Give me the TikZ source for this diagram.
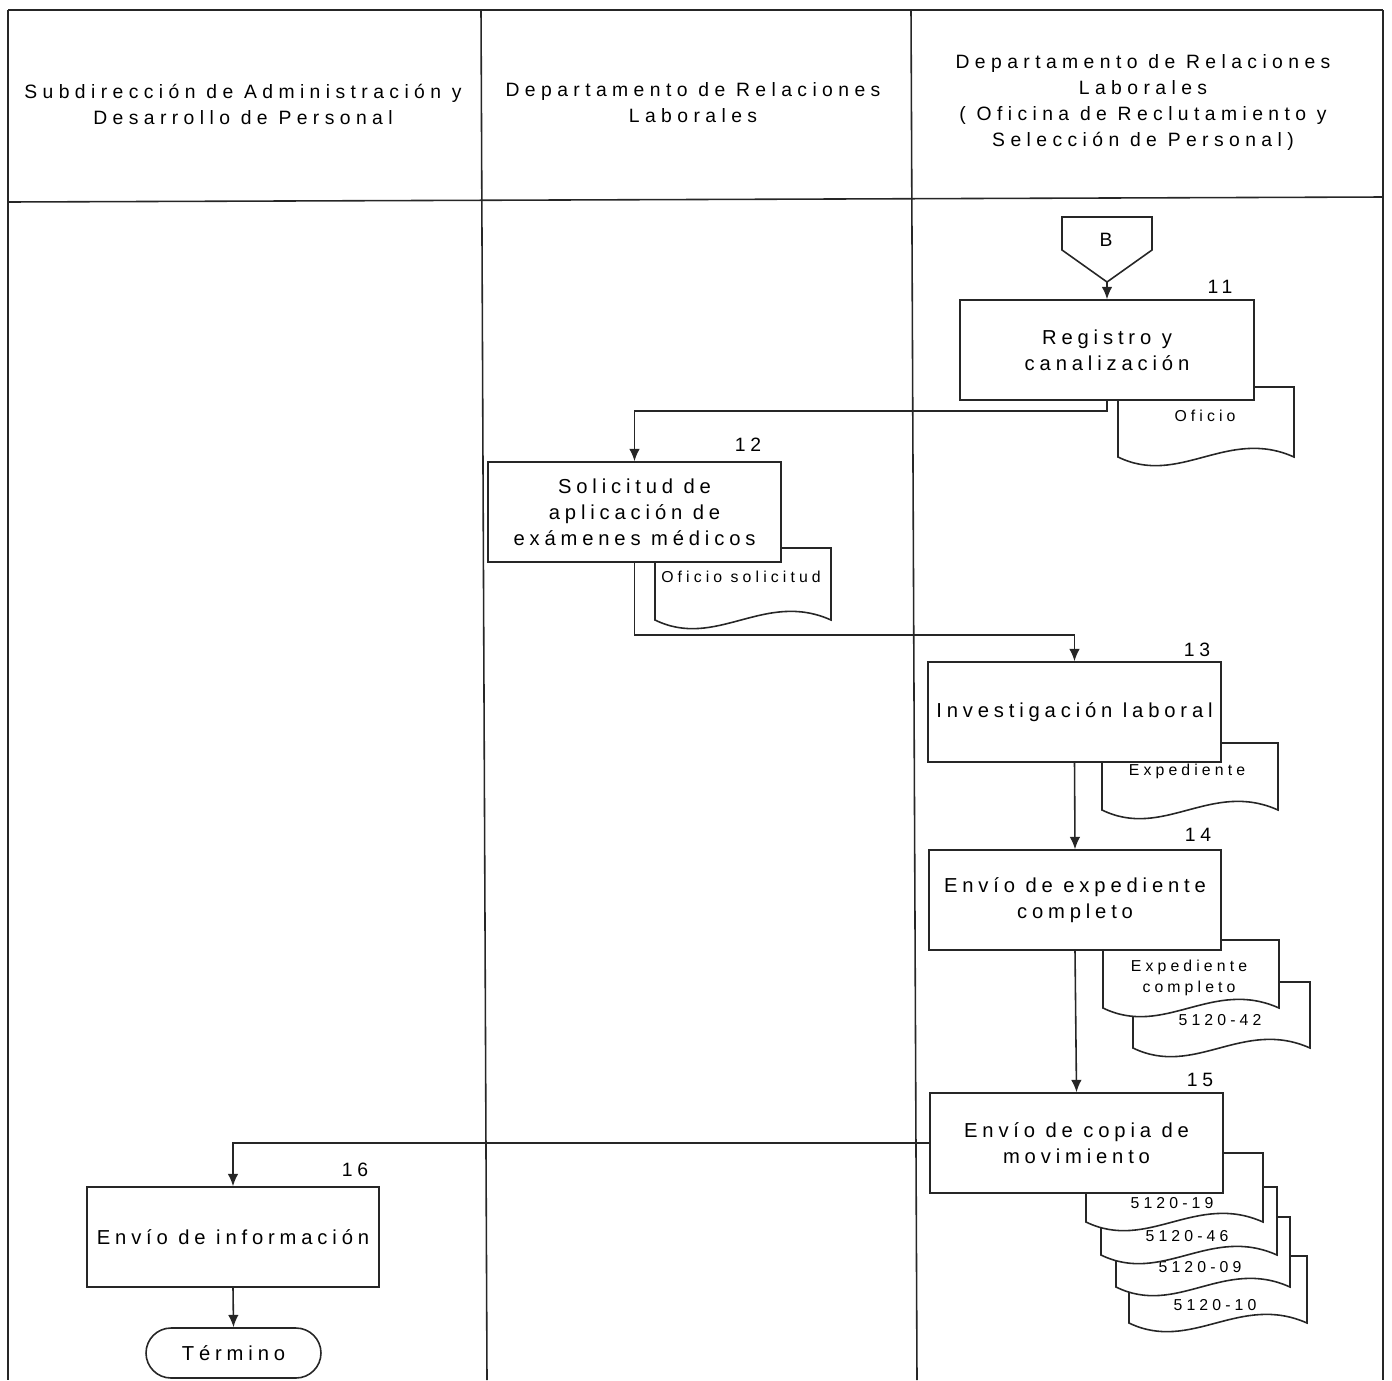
\documentclass[tikz,border=0pt]{standalone}
\usepackage{fontspec}
\setmainfont{Liberation Sans}
\newfontfamily\hfont[LetterSpace=28]{Liberation Sans}
\newfontfamily\bfont[LetterSpace=24]{Liberation Sans}
\newfontfamily\dfont[LetterSpace=26]{Liberation Sans}
\usetikzlibrary{calc,arrows.meta}
\tikzset{
  ln/.style={line width=0.9pt, draw=black!85},
  arr/.style={ln, -{Latex[length=7pt,width=6pt]}},
  hdr/.style={align=center, font=\hfont\fontsize{11}{14.8}\selectfont, inner sep=0pt},
  box/.style={ln, fill=white, rectangle, minimum height=2cm, align=center,
              font=\bfont\fontsize{11.5}{14.8}\selectfont, inner sep=0pt},
  num/.style={font=\bfont\fontsize{11}{13}\selectfont, inner sep=0pt},
  dtxt/.style={font=\dfont\fontsize{9}{12}\selectfont, align=center, inner sep=0pt},
  term/.style={ln, fill=white, rounded corners=0.5cm, minimum width=3.5cm, minimum height=1cm,
               font=\bfont\fontsize{11.5}{13}\selectfont, inner sep=0pt}
}
% document shape: x1, top, x2, bottom
\newcommand\docshape[4]{%
  \pgfmathsetmacro\dw{#3-#1}%
  \draw[ln, fill=white] (#1,#2) -- (#3,#2) -- (#3,#4)
     .. controls ({#1+0.62*\dw},{#4-30}) and ({#1+0.35*\dw},{#4+30}) .. (#1,#4) -- cycle;}
\begin{document}
\begin{tikzpicture}[x=0.02cm, y=-0.02cm]
\useasboundingbox (0,0) rectangle (1392,1380);
% frame
\draw[ln] (8,10) -- (1383,10);
\draw[ln] (8,10) -- (8,1380);
\draw[ln] (1383,10) -- (1383,1380);
\draw[ln] (481,10) -- (487,1380);
\draw[ln] (911,10) -- (917,1380);
\draw[ln] (8,202) -- (1383,197);
% headers
\node[hdr] (h1) at (243,104) {Subdirección de Administración y\\Desarrollo de Personal};
\node[hdr] (h2) at (693,103) {Departamento de Relaciones\\Laborales};
\node[hdr] (h3) at (1143,102) {Departamento de Relaciones\\Laborales\\( Oficina de Reclutamiento y\\Selección de Personal)};
% connector B
\draw[ln, fill=white] (1062,217) -- (1152,217) -- (1152,250) -- (1107,282) -- (1062,250) -- cycle;
\node[num] (B) at (1106,240) {B};
\coordinate (Btip) at (1107,282);
% documents
\docshape{1118}{387}{1294}{457}
\node[dtxt] (d11) at (1205,416) {Oficio};
\docshape{655}{548}{831}{620}
\node[dtxt] (d12) at (741,577) {Oficio solicitud};
\docshape{1102}{743}{1278}{810}
\node[dtxt] (d13) at (1187,771) {Expediente};
\docshape{1133}{982}{1310}{1048}
\node[dtxt] (d14b) at (1220,1020) {5120-42};
\docshape{1103}{940}{1279}{1008}
\node[dtxt] (d14a) at (1189,978) {Expediente\\completo};
\docshape{1129}{1256}{1307}{1323}
\node[dtxt] (d15d) at (1215,1305) {5120-10};
\docshape{1116}{1217}{1290}{1287}
\node[dtxt] (d15c) at (1200,1267) {5120-09};
\docshape{1101}{1187}{1277}{1255}
\node[dtxt] (d15b) at (1187,1236) {5120-46};
\docshape{1086}{1153}{1263}{1222}
\node[dtxt] (d15a) at (1172,1203) {5120-19};
% boxes
\node[box, minimum width=5.88cm] (b11) at (1107,350) {Registro y\\canalización};
\node[box, minimum width=5.86cm] (b12) at (634.5,512) {Solicitud de\\aplicación de\\exámenes médicos};
\node[box, minimum width=5.86cm] (b13) at (1074.5,712) {Investigación laboral};
\node[box, minimum width=5.84cm] (b14) at (1075,900) {Envío de expediente\\completo};
\node[box, minimum width=5.86cm] (b15) at (1076.5,1143) {Envío de copia de\\movimiento};
\node[box, minimum width=5.84cm] (b16) at (233,1237) {Envío de información};
\node[term] (t) at (233.5,1353) {Término};
% numbers
\node[num] (n11) at (1220,287) {11};
\node[num] (n12) at (748,445) {12};
\node[num] (n13) at (1197,650) {13};
\node[num] (n14) at (1198,835) {14};
\node[num] (n15) at (1200,1080) {15};
\node[num] (n16) at (355,1170) {16};
% connectors
\draw[arr] (Btip) -- (b11.north);
\draw[arr] (b11.south) -- ++(0,10) -| (b12.north);
\draw[arr] (b12.south) -- (634.5,635) -| (b13.north);
\draw[arr] (b13.south) -- (b14.north);
\draw[arr] (b14.south) -- (b15.north);
\draw[arr] (b15.west) -| (b16.north);
\draw[arr] (b16.south) -- (t.north);
\end{tikzpicture}
\end{document}
